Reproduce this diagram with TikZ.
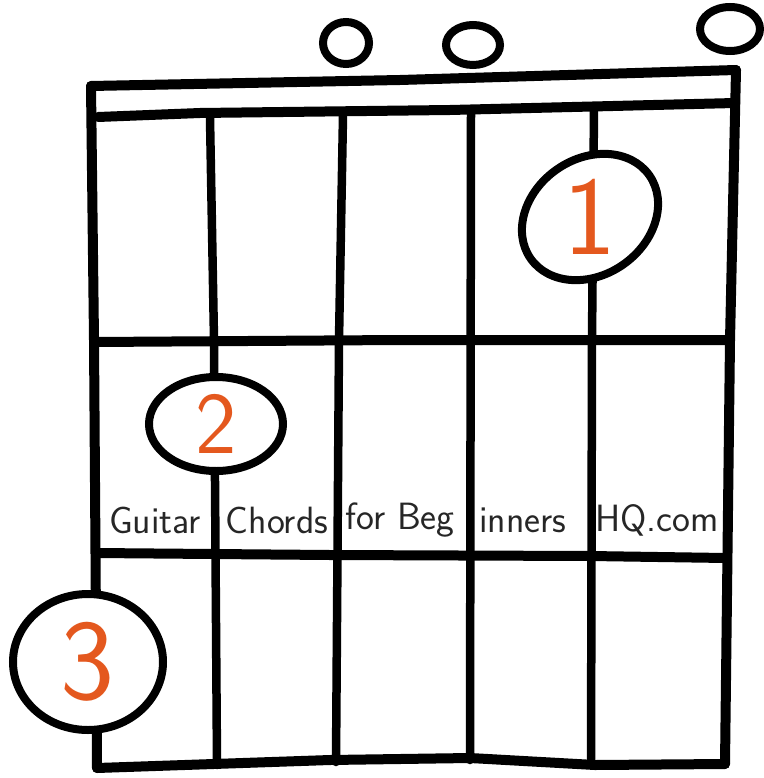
\documentclass[tikz,border=0pt]{standalone}
\usepackage{fontspec}
\usepackage{tikz}
\usetikzlibrary{shapes.geometric, positioning}
\definecolor{fingerorange}{RGB}{228,88,30}

\begin{document}
\begin{tikzpicture}[
    x=1pt, y=-1pt,
    grid/.style={line width=10pt, line cap=round, line join=round},
    string/.style={line width=8.5pt, line cap=round},
    open/.style={ellipse, draw=black, line width=8pt, fill=white, inner sep=0pt},
    finger/.style={ellipse, draw=black, line width=8pt, fill=white, inner sep=0pt, text=fingerorange},
    brand/.style={font=\sffamily\fontsize{38}{40}\selectfont, text=black!85}
]
\useasboundingbox (0,0) rectangle (763,778);

% frame and nut
\draw[grid] (91,86) -- (400,80) -- (736,70);
\draw[grid] (98,117) -- (200,113) -- (450,110) -- (735,103);
\draw[grid] (91,86) -- (94,340) -- (97,768);
\draw[grid] (736,70) -- (730,340) -- (725,764);
% frets
\draw[grid] (95,342) -- (400,340) -- (728,340);
\draw[grid] (96,553) -- (330,555) -- (590,556) -- (726,558);
\draw[grid] (97,768) -- (330,760) -- (470,758) -- (595,765) -- (725,764);
% strings
\draw[string] (210,118) -- (214,340) -- (217,765);
\draw[string] (343,115) -- (339,340) -- (336,762);
\draw[string] (471,112) -- (470,760);
\draw[string] (594,108) -- (592,340) -- (591,765);

% open strings
\node[open, minimum width=46pt, minimum height=42pt] (open3) at (346,43) {};
\node[open, minimum width=54pt, minimum height=40pt] (open4) at (473,45) {};
\node[open, minimum width=60pt, minimum height=44pt] (open6) at (730,29) {};

% fingers
\node[finger, minimum width=145pt, minimum height=116pt, rotate=35] (finger1) at (590,217) {};
\node[text=fingerorange, font=\sffamily\fontsize{112}{112}\selectfont] at (finger1) {1};
\node[finger, minimum width=134pt, minimum height=94pt, font=\sffamily\fontsize{88}{88}\selectfont] (finger2) at (216,424) {2};
\node[finger, minimum width=150pt, minimum height=136pt, font=\sffamily\fontsize{115}{115}\selectfont] (finger3) at (88,662) {3};

% watermark
\node[brand] (word1) at (155,520) {Guitar};
\node[brand] (word2) at (277,520) {Chords};
\node[brand] (word3) at (400,520) {for Beg};
\node[brand] (word4) at (523,520) {inners};
\node[brand] (word5) at (657,520) {HQ.com};

\end{tikzpicture}
\end{document}
